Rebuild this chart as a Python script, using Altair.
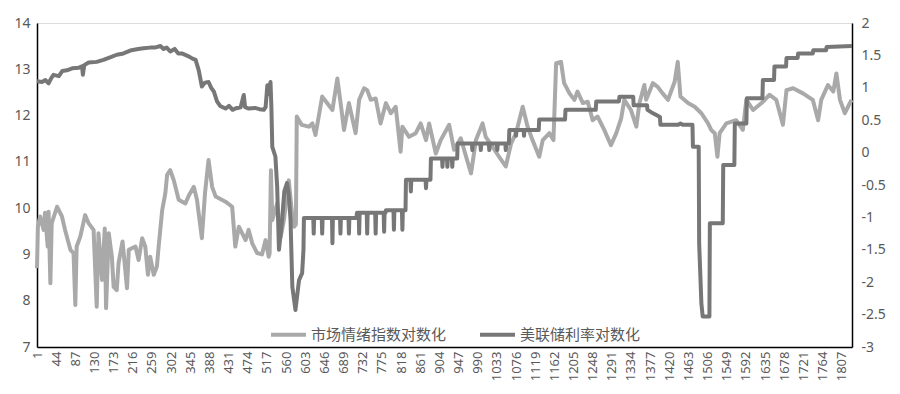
import altair as alt
import pandas as pd

# ---- data ----
SENT_NAME = "市场情绪指数对数化"
FED_NAME = "美联储利率对数化"

x_ticks = [1, 44, 87, 130, 173, 216, 259, 302, 345, 388, 431, 474, 517, 560, 603,
           646, 689, 732, 775, 818, 861, 904, 947, 990, 1033, 1076, 1119, 1162,
           1205, 1248, 1291, 1334, 1377, 1420, 1463, 1506, 1549, 1592, 1635, 1678,
           1721, 1764, 1807]

sent_idx = [1, 3, 8, 16, 19, 25, 27, 31, 34, 46, 57, 64, 76, 83, 87, 90, 98, 109, 117,
            128, 135, 139, 147, 153, 156, 162, 169, 173, 180, 184, 193, 203, 207, 222,
            229, 237, 244, 250, 255, 263, 270, 274, 282, 289, 293, 300, 308, 319, 334,
            342, 353, 360, 371, 378, 386, 394, 402, 424, 439, 446, 454, 469, 476, 484,
            495, 506, 514, 521, 523, 526, 529, 540, 548, 555, 566, 574, 578, 582, 584,
            593, 595, 611, 619, 626, 641, 652, 664, 675, 682, 690, 701, 716, 724, 735,
            742, 750, 761, 772, 784, 795, 806, 817, 821, 836, 851, 862, 874, 881, 896,
            907, 926, 937, 952, 964, 975, 986, 1001, 1008, 1023, 1038, 1053, 1065, 1076,
            1091, 1102, 1113, 1128, 1136, 1151, 1160, 1166, 1177, 1184, 1196, 1207,
            1214, 1226, 1237, 1248, 1259, 1274, 1289, 1301, 1312, 1319, 1334, 1346,
            1353, 1364, 1368, 1383, 1394, 1405, 1417, 1432, 1439, 1445, 1462, 1477,
            1492, 1507, 1514, 1522, 1528, 1533, 1548, 1570, 1585, 1593, 1608, 1627,
            1645, 1660, 1675, 1683, 1698, 1720, 1742, 1754, 1761, 1776, 1788, 1795,
            1803, 1814, 1821, 1829]
sent_val = [8.70, 9.60, 9.82, 9.53, 9.90, 9.17, 9.92, 8.38, 9.67, 10.03, 9.82, 9.53,
            9.10, 9.03, 7.91, 9.17, 9.38, 9.85, 9.67, 9.53, 7.87, 9.46, 8.45, 9.56,
            7.84, 9.46, 8.95, 8.30, 8.23, 8.81, 9.28, 8.27, 9.10, 9.17, 8.88, 9.35,
            9.17, 8.56, 8.95, 8.56, 8.74, 9.17, 9.96, 10.32, 10.72, 10.82, 10.60,
            10.18, 10.10, 10.28, 10.46, 10.18, 9.35, 10.32, 11.04, 10.46, 10.25, 10.14,
            10.03, 9.17, 9.60, 9.31, 9.53, 9.24, 9.03, 9.00, 9.31, 8.95, 9.02, 10.82,
            9.74, 10.10, 9.38, 9.74, 10.60, 9.82, 9.60, 9.65, 11.98, 11.83, 11.80,
            11.76, 11.83, 11.58, 12.41, 12.27, 12.12, 12.80, 12.30, 11.69, 12.27,
            11.62, 12.34, 12.59, 12.55, 12.34, 12.37, 11.83, 12.27, 12.05, 12.19,
            11.22, 11.76, 11.54, 11.62, 11.83, 11.47, 11.83, 11.18, 11.47, 11.80,
            11.26, 11.51, 11.11, 10.75, 11.47, 11.83, 11.54, 11.33, 11.11, 10.90,
            11.40, 11.62, 12.19, 11.76, 11.47, 11.11, 11.47, 11.62, 11.47, 13.13,
            13.16, 12.70, 12.48, 12.34, 12.52, 12.27, 12.30, 11.90, 11.98, 11.69,
            11.36, 11.62, 11.94, 12.34, 12.12, 11.76, 12.27, 12.66, 12.34, 12.70,
            12.62, 12.48, 12.34, 12.73, 13.16, 12.41, 12.27, 12.19, 12.05, 11.83,
            11.69, 11.62, 11.11, 11.62, 11.83, 11.90, 11.69, 12.34, 12.12, 12.27,
            12.45, 12.34, 11.80, 12.55, 12.59, 12.48, 12.34, 11.90, 12.34, 12.66,
            12.52, 12.91, 12.34, 12.05, 12.19, 12.34]

fed_idx = [1, 12, 20, 27, 33, 38, 50, 58, 68, 80, 95, 102, 104, 107, 117, 135, 150,
           165, 180, 195, 213, 228, 240, 255, 265, 278, 285, 292, 300, 310, 318, 326,
           340, 350, 357, 364, 371, 378, 386, 392, 398, 405, 412, 424, 432, 440, 446,
           458, 465, 468, 476, 490, 500, 510, 514, 518, 521, 525, 527, 529, 536, 540,
           544, 551, 556, 562, 566, 570, 574, 581, 589, 596, 599, 600,
           621, 622, 623, 640, 641, 642, 663, 664, 665, 681, 682, 683, 700, 701, 702,
           718, 719, 723, 724, 725, 741, 742, 743, 760, 761, 762, 779, 780, 781,
           783, 784, 801, 802, 803, 820, 821, 822, 828, 829,
           839, 840, 841, 873, 874, 875, 884, 885,
           910, 911, 912, 921, 922, 923, 932, 933, 934, 944, 945,
           977, 978, 979, 996, 997, 998, 1015, 1016, 1017, 1033, 1034, 1035,
           1052, 1053, 1054, 1060, 1061, 1075, 1076, 1077, 1093, 1094, 1095,
           1127, 1128, 1186, 1187, 1255, 1256, 1307, 1308, 1339, 1340, 1370, 1371,
           1380, 1391, 1399, 1400, 1440, 1445, 1450, 1472, 1473, 1486, 1487, 1492,
           1495, 1510, 1511, 1540, 1541, 1566, 1567, 1593, 1594, 1629, 1630, 1655,
           1656, 1682, 1683, 1708, 1709, 1742, 1743, 1772, 1773, 1830]
fed_val = [1.10, 1.09, 1.12, 1.07, 1.15, 1.20, 1.18, 1.26, 1.27, 1.30, 1.31, 1.33,
           1.20, 1.35, 1.39, 1.40, 1.43, 1.47, 1.51, 1.53, 1.58, 1.60, 1.61, 1.62,
           1.62, 1.645, 1.60, 1.62, 1.56, 1.60, 1.53, 1.53, 1.49, 1.45, 1.43, 1.27,
           1.02, 1.08, 1.09, 1.00, 0.94, 0.79, 0.72, 0.68, 0.72, 0.66, 0.68, 0.70,
           0.89, 0.70, 0.68, 0.69, 0.67, 0.66, 0.70, 1.04, 0.90, 1.09, 0.70, 0.09,
           -0.06, -0.53, -1.50, -1.04, -0.60, -0.47, -0.65, -1.04, -2.07, -2.43,
           -1.97, -1.86, -1.50, -1.01,
           -1.01, -1.25, -1.01, -1.01, -1.25, -1.01, -1.01, -1.40, -1.01, -1.01,
           -1.25, -1.01, -1.01, -1.25, -1.01,
           -1.01, -0.93, -0.93, -1.25, -0.93, -0.93, -1.25, -0.93, -0.93, -1.25,
           -0.93, -0.93, -1.22, -0.93, -0.93, -0.89, -0.89, -1.19, -0.89, -0.89,
           -1.19, -0.89, -0.89, -0.42,
           -0.42, -0.60, -0.42, -0.42, -0.55, -0.42, -0.42, -0.09,
           -0.09, -0.22, -0.09, -0.09, -0.22, -0.09, -0.09, -0.22, -0.09, -0.09, 0.14,
           0.14, 0.04, 0.14, 0.14, 0.04, 0.14, 0.14, 0.04, 0.14, 0.14, 0.04, 0.14,
           0.14, 0.04, 0.14, 0.14, 0.35, 0.35, 0.26, 0.35, 0.35, 0.26, 0.35,
           0.35, 0.51, 0.51, 0.66, 0.66, 0.79, 0.79, 0.86, 0.86, 0.73, 0.73, 0.66,
           0.62, 0.58, 0.55, 0.43, 0.43, 0.45, 0.43, 0.43, 0.09, 0.09, -1.40, -2.33,
           -2.53, -2.53, -1.09, -1.09, -0.19, -0.19, 0.45, 0.45, 0.84, 0.84, 1.12,
           1.12, 1.33, 1.33, 1.46, 1.46, 1.53, 1.53, 1.58, 1.58, 1.63, 1.645]

LIGHT = "#a9a9a9"
DARK = "#777777"

df_sent = pd.DataFrame({"idx": sent_idx, "val": sent_val, "series": SENT_NAME})
df_fed = pd.DataFrame({"idx": fed_idx, "val": fed_val, "series": FED_NAME})

color_scale = alt.Scale(domain=[SENT_NAME, FED_NAME], range=[LIGHT, DARK])
legend = alt.Legend(
    title=None, orient="none", legendX=232, legendY=292, direction="horizontal",
    symbolType="stroke", symbolSize=1225, symbolStrokeWidth=4,
    labelFont="Noto Sans CJK SC", labelFontSize=15, labelColor="#595959",
    labelOffset=3, columnPadding=25,
)

x_enc = alt.X(
    "idx:Q",
    scale=alt.Scale(domain=[1, 1830], nice=False, zero=False),
    axis=alt.Axis(
        values=x_ticks, labelAngle=270, title=None, grid=False, ticks=False,
        labelExpr="'' + datum.value",
        domainColor="#000000", domainWidth=1.5, labelFont="Noto Sans",
        labelFontSize=13, labelColor="#595959", labelPadding=4,
        labelOverlap=False, labelFlush=False,
    ),
)

light = alt.Chart(df_sent).mark_line(strokeWidth=4, strokeJoin="round").encode(
    x=x_enc,
    y=alt.Y(
        "val:Q",
        scale=alt.Scale(domain=[7, 14], nice=False, zero=False),
        axis=alt.Axis(
            values=[7, 8, 9, 10, 11, 12, 13, 14], title=None, grid=False, ticks=False,
            domainColor="#000000", domainWidth=1.5, labelFont="Noto Sans",
            labelFontSize=14, labelColor="#595959", labelPadding=7,
        ),
    ),
    color=alt.Color("series:N", scale=color_scale, legend=legend),
)

dark = alt.Chart(df_fed).mark_line(strokeWidth=4, strokeJoin="round").encode(
    x=x_enc,
    y=alt.Y(
        "val:Q",
        scale=alt.Scale(domain=[-3, 2], nice=False, zero=False),
        axis=alt.Axis(
            orient="right", values=[-3, -2.5, -2, -1.5, -1, -0.5, 0, 0.5, 1, 1.5, 2],
            labelExpr="'' + datum.value", title=None, grid=False, ticks=False,
            domainColor="#000000", domainWidth=1.5, labelFont="Noto Sans",
            labelFontSize=14, labelColor="#595959", labelPadding=9,
        ),
    ),
    color=alt.Color("series:N", scale=color_scale, legend=legend),
)

chart = alt.layer(light, dark).resolve_scale(y="independent").properties(
    width=815, height=324,
    autosize=alt.AutoSizeParams(type="none"),
    padding={"left": 29, "top": 15, "right": 40, "bottom": 40},
).configure_view(stroke=None).configure(background="white")

chart.save("out.html", embed_options={"renderer": "svg", "actions": False})
